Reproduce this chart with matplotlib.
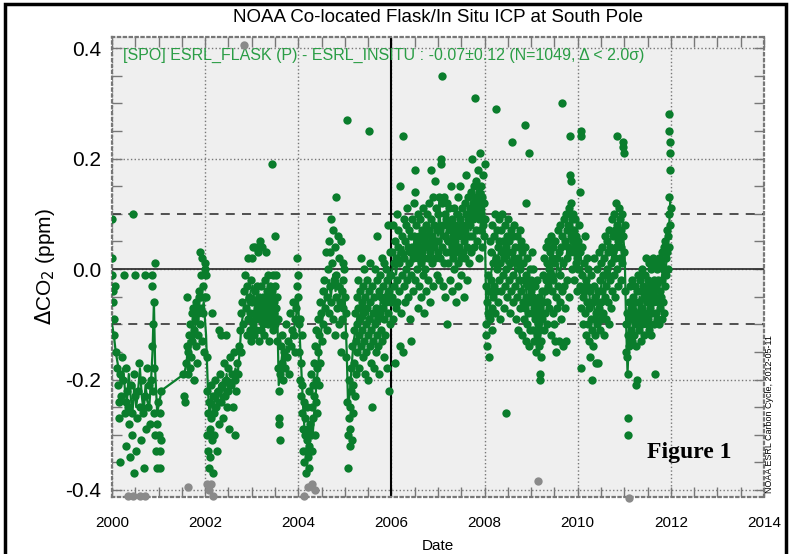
import numpy as np
import matplotlib
matplotlib.use('Agg')
import matplotlib.pyplot as plt

plt.rcParams['font.family'] = ['Liberation Sans', 'DejaVu Sans']

# flask minus in situ differences, (fraction of year, ppm)
pts_2000 = [(0.00, 0.09), (0.00, 0.02), (0.01, -0.01), (0.02, -0.04), (0.03, -0.06), (0.04, -0.09),
            (0.05, -0.12), (0.06, -0.03), (0.08, -0.15), (0.10, -0.18), (0.12, -0.21), (0.14, -0.24),
            (0.15, -0.27), (0.17, -0.35), (0.18, -0.19), (0.20, -0.23), (0.22, -0.16), (0.24, -0.20),
            (0.26, -0.01), (0.27, -0.26), (0.29, -0.24), (0.30, -0.32), (0.31, -0.18), (0.33, -0.22),
            (0.35, -0.25), (0.36, -0.28), (0.38, -0.34), (0.40, -0.21), (0.42, -0.26), (0.44, -0.30),
            (0.45, 0.10), (0.47, -0.37), (0.48, -0.19), (0.50, -0.23), (0.50, -0.01), (0.52, -0.33),
            (0.54, -0.27), (0.56, -0.22), (0.58, -0.17), (0.60, -0.25), (0.62, -0.31), (0.64, -0.20),
            (0.66, -0.26), (0.68, -0.36), (0.70, -0.01), (0.71, -0.23), (0.73, -0.29), (0.75, -0.18),
            (0.77, -0.25), (0.79, -0.21), (0.81, -0.28), (0.83, -0.20), (0.85, -0.01), (0.85, -0.03),
            (0.86, -0.14), (0.88, -0.22), (0.89, -0.10), (0.90, -0.06), (0.90, -0.18), (0.91, -0.26),
            (0.92, 0.01), (0.93, -0.30), (0.94, -0.33), (0.96, -0.28), (0.97, -0.36), (0.98, -0.24)]

pts_2001 = [(0.00, -0.30), (0.02, -0.33), (0.03, -0.26), (0.04, -0.36), (0.05, -0.22), (0.06, -0.31),
            (0.52, -0.19), (0.55, -0.23), (0.57, -0.24), (0.58, -0.17), (0.60, -0.14), (0.62, -0.05),
            (0.63, -0.19), (0.64, -0.15), (0.66, -0.12), (0.67, -0.18), (0.68, -0.10), (0.70, -0.16),
            (0.71, -0.08), (0.72, -0.13), (0.74, -0.07), (0.75, -0.20), (0.76, -0.11), (0.78, -0.09),
            (0.80, -0.14), (0.81, -0.06), (0.82, -0.17), (0.84, -0.08), (0.85, -0.12), (0.86, -0.05),
            (0.87, -0.04), (0.88, -0.10), (0.89, 0.03), (0.90, -0.07), (0.91, -0.01), (0.92, -0.05),
            (0.93, -0.13), (0.94, 0.02), (0.95, -0.08), (0.96, -0.03), (0.97, -0.15), (0.98, -0.05),
            (0.99, 0.00)]

pts_2002 = [(0.00, 0.01), (0.01, -0.01), (0.02, -0.05), (0.03, -0.16), (0.04, -0.22), (0.05, -0.30),
            (0.06, -0.33), (0.07, -0.26), (0.08, -0.36), (0.09, -0.24), (0.10, -0.29), (0.11, -0.34),
            (0.12, -0.21), (0.13, -0.27), (0.14, -0.31), (0.15, -0.08), (0.16, -0.23), (0.17, -0.37),
            (0.18, -0.26), (0.20, -0.30), (0.22, -0.20), (0.24, -0.25), (0.25, -0.33), (0.27, -0.22),
            (0.29, -0.11), (0.30, -0.28), (0.32, -0.19), (0.34, -0.24), (0.35, -0.12), (0.37, -0.21),
            (0.39, -0.27), (0.40, -0.17), (0.42, -0.23), (0.44, -0.20), (0.45, -0.12), (0.47, -0.25),
            (0.49, -0.18), (0.50, -0.22), (0.52, -0.29), (0.54, -0.16), (0.56, -0.21), (0.58, -0.19),
            (0.60, -0.25), (0.62, -0.15), (0.64, -0.20), (0.65, -0.30), (0.67, -0.22), (0.69, -0.17),
            (0.71, -0.19), (0.73, -0.14), (0.75, -0.11), (0.77, -0.08), (0.78, -0.15), (0.80, -0.06),
            (0.82, -0.10), (0.84, -0.04), (0.86, -0.01), (0.88, -0.07), (0.89, -0.12), (0.90, -0.03),
            (0.92, -0.09), (0.93, 0.02), (0.94, -0.05), (0.96, -0.11), (0.97, -0.08), (0.98, -0.02),
            (0.99, -0.13)]

pts_2003 = [(0.00, 0.02), (0.01, -0.06), (0.02, -0.10), (0.03, 0.04), (0.04, -0.08), (0.05, -0.12),
            (0.06, -0.04), (0.07, -0.09), (0.08, 0.04), (0.09, -0.06), (0.10, -0.11), (0.11, -0.07),
            (0.12, -0.03), (0.13, 0.03), (0.14, -0.08), (0.15, -0.13), (0.16, -0.05), (0.17, 0.05),
            (0.18, -0.09), (0.19, -0.06), (0.20, -0.11), (0.21, -0.03), (0.22, -0.07), (0.23, 0.04),
            (0.24, -0.10), (0.25, -0.05), (0.26, -0.08), (0.27, -0.12), (0.28, -0.02), (0.29, -0.06),
            (0.30, -0.09), (0.31, 0.03), (0.32, -0.07), (0.33, -0.04), (0.34, -0.10), (0.35, -0.01),
            (0.36, -0.08), (0.37, -0.05), (0.38, -0.13), (0.39, -0.06), (0.40, -0.03), (0.41, -0.09),
            (0.42, -0.07), (0.43, 0.19), (0.44, -0.04), (0.45, -0.01), (0.46, -0.11), (0.47, -0.06),
            (0.48, -0.08), (0.49, 0.06), (0.50, -0.03), (0.51, -0.10), (0.52, -0.01), (0.53, -0.07),
            (0.54, -0.13), (0.55, -0.05), (0.56, -0.09), (0.57, -0.18), (0.58, -0.27), (0.58, -0.22),
            (0.59, -0.28), (0.60, -0.31), (0.61, -0.19), (0.62, -0.14), (0.64, -0.17), (0.66, -0.12),
            (0.68, -0.20), (0.70, -0.15), (0.72, -0.18), (0.74, -0.10), (0.76, -0.16), (0.78, -0.13),
            (0.80, -0.19), (0.82, -0.08), (0.84, -0.14), (0.86, -0.11), (0.88, -0.06), (0.90, -0.12),
            (0.92, -0.09), (0.94, -0.15), (0.96, -0.07), (0.97, -0.03), (0.98, 0.02), (0.99, -0.01)]

pts_2004 = [(0.00, -0.05), (0.01, -0.10), (0.02, -0.15), (0.03, -0.09), (0.04, -0.20), (0.05, -0.17),
            (0.06, -0.23), (0.07, -0.12), (0.08, -0.26), (0.09, -0.21), (0.10, -0.29), (0.11, -0.33),
            (0.12, -0.24), (0.13, -0.35), (0.14, -0.30), (0.15, -0.27), (0.16, -0.33), (0.17, -0.37),
            (0.18, -0.31), (0.19, -0.25), (0.20, -0.34), (0.21, -0.29), (0.22, -0.32), (0.23, -0.22),
            (0.24, -0.36), (0.25, -0.28), (0.26, -0.33), (0.27, -0.19), (0.28, -0.30), (0.29, -0.25),
            (0.30, -0.33), (0.31, -0.21), (0.32, -0.27), (0.33, -0.17), (0.34, -0.23), (0.35, -0.30),
            (0.36, -0.14), (0.37, -0.20), (0.38, -0.24), (0.39, -0.11), (0.40, -0.18), (0.41, -0.26),
            (0.42, -0.15), (0.43, -0.09), (0.44, -0.21), (0.45, -0.12), (0.46, -0.06), (0.47, -0.17),
            (0.48, -0.08), (0.50, -0.13), (0.52, -0.04), (0.54, -0.10), (0.56, -0.02), (0.58, -0.07),
            (0.60, 0.03), (0.61, -0.11), (0.62, -0.05), (0.64, 0.00), (0.66, -0.08), (0.67, 0.05),
            (0.68, 0.03), (0.69, -0.03), (0.70, 0.09), (0.71, -0.06), (0.72, 0.01), (0.74, -0.09),
            (0.75, 0.07), (0.76, -0.02), (0.78, -0.12), (0.79, 0.04), (0.80, -0.05), (0.82, 0.13),
            (0.82, -0.01), (0.84, -0.07), (0.85, 0.06), (0.86, -0.03), (0.87, -0.10), (0.88, 0.02),
            (0.90, -0.06), (0.91, -0.15), (0.92, 0.05), (0.93, -0.04), (0.94, -0.09), (0.95, -0.02),
            (0.96, 0.01), (0.97, -0.07), (0.98, -0.12), (0.99, 0.00)]

pts_2005 = [(0.00, -0.05), (0.02, -0.08), (0.03, -0.16), (0.04, 0.27), (0.05, -0.24), (0.06, -0.30),
            (0.07, -0.36), (0.08, -0.27), (0.09, -0.20), (0.10, -0.32), (0.11, -0.25), (0.12, -0.29),
            (0.13, -0.22), (0.14, -0.18), (0.15, -0.31), (0.16, -0.14), (0.17, -0.26), (0.18, -0.21),
            (0.19, -0.11), (0.20, -0.17), (0.21, -0.23), (0.22, -0.08), (0.23, -0.13), (0.24, -0.19),
            (0.25, -0.05), (0.26, -0.10), (0.27, -0.15), (0.28, -0.02), (0.29, -0.07), (0.30, -0.12),
            (0.31, -0.18), (0.32, -0.04), (0.33, -0.09), (0.34, -0.14), (0.35, 0.02), (0.36, -0.06),
            (0.37, -0.11), (0.38, -0.16), (0.39, -0.03), (0.40, -0.08), (0.41, -0.13), (0.42, 0.00),
            (0.43, -0.19), (0.44, -0.05), (0.45, -0.10), (0.46, -0.15), (0.47, -0.02), (0.48, -0.07),
            (0.49, -0.12), (0.50, -0.20), (0.51, -0.04), (0.52, 0.25), (0.52, -0.09), (0.53, -0.14),
            (0.54, 0.01), (0.55, -0.06), (0.56, -0.11), (0.57, -0.17), (0.58, -0.25), (0.59, -0.03),
            (0.60, -0.08), (0.61, -0.13), (0.62, -0.18), (0.63, -0.05), (0.64, -0.10), (0.65, 0.00),
            (0.66, -0.15), (0.67, -0.07), (0.68, -0.12), (0.69, -0.02), (0.70, 0.06), (0.71, -0.09),
            (0.72, -0.14), (0.73, -0.04), (0.74, -0.19), (0.75, -0.08), (0.76, -0.01), (0.77, -0.11),
            (0.78, -0.05), (0.79, 0.02), (0.80, -0.13), (0.81, -0.07), (0.82, -0.03), (0.83, -0.16),
            (0.84, 0.01), (0.85, -0.09), (0.86, -0.05), (0.87, -0.12), (0.88, 0.00), (0.89, -0.06),
            (0.90, -0.18), (0.91, -0.02), (0.92, 0.08), (0.93, -0.08), (0.94, -0.04), (0.95, -0.22),
            (0.96, -0.01), (0.97, -0.10), (0.98, 0.03), (0.99, -0.06)]

pts_2006 = [(0.00, -0.01), (0.01, 0.03), (0.02, -0.05), (0.03, 0.08), (0.04, -0.09), (0.05, 0.01),
            (0.06, -0.03), (0.07, -0.17), (0.08, 0.05), (0.09, -0.07), (0.10, 0.02), (0.11, 0.10),
            (0.12, -0.02), (0.13, -0.06), (0.14, 0.04), (0.15, 0.07), (0.16, -0.04), (0.17, 0.01),
            (0.18, 0.15), (0.19, -0.14), (0.20, -0.08), (0.21, 0.03), (0.22, 0.06), (0.23, -0.01),
            (0.24, -0.15), (0.25, 0.24), (0.26, 0.09), (0.27, -0.03), (0.28, 0.02), (0.29, 0.05),
            (0.30, -0.06), (0.31, 0.00), (0.32, 0.08), (0.33, -0.02), (0.34, 0.11), (0.35, 0.04),
            (0.36, -0.05), (0.37, 0.01), (0.38, 0.07), (0.39, -0.09), (0.40, 0.03), (0.41, 0.06),
            (0.42, -0.13), (0.43, -0.01), (0.44, 0.09), (0.45, 0.04), (0.46, -0.04), (0.47, 0.02),
            (0.48, 0.12), (0.49, 0.06), (0.50, 0.18), (0.50, 0.14), (0.51, -0.02), (0.52, 0.03),
            (0.53, 0.08), (0.54, 0.00), (0.55, 0.05), (0.56, -0.07), (0.57, 0.10), (0.58, 0.02),
            (0.59, 0.06), (0.60, -0.03), (0.61, 0.04), (0.62, 0.09), (0.63, 0.01), (0.64, -0.05),
            (0.65, 0.07), (0.66, 0.03), (0.67, -0.01), (0.68, 0.11), (0.69, 0.05), (0.70, -0.08),
            (0.71, 0.02), (0.72, 0.06), (0.73, 0.00), (0.74, 0.08), (0.75, -0.04), (0.76, 0.04),
            (0.77, 0.10), (0.78, 0.02), (0.79, -0.02), (0.80, 0.07), (0.81, 0.12), (0.82, 0.03),
            (0.83, -0.06), (0.84, 0.05), (0.85, 0.09), (0.86, 0.18), (0.87, 0.01), (0.88, 0.06),
            (0.89, 0.13), (0.90, -0.03), (0.91, 0.04), (0.92, 0.08), (0.93, 0.16), (0.94, 0.02),
            (0.95, 0.11), (0.96, 0.05), (0.97, -0.01), (0.98, 0.07), (0.99, 0.03)]

pts_2007 = [(0.00, 0.05), (0.01, 0.10), (0.02, -0.02), (0.03, 0.13), (0.04, 0.07), (0.05, 0.02),
            (0.06, 0.19), (0.07, 0.20), (0.08, 0.35), (0.08, 0.12), (0.09, 0.04), (0.10, -0.03),
            (0.11, 0.08), (0.12, 0.13), (0.13, 0.01), (0.14, 0.06), (0.15, 0.10), (0.16, -0.05),
            (0.17, 0.03), (0.18, 0.09), (0.19, 0.12), (0.20, -0.10), (0.21, 0.05), (0.22, 0.01),
            (0.23, 0.08), (0.24, 0.11), (0.25, 0.03), (0.26, -0.02), (0.27, 0.07), (0.28, 0.15),
            (0.29, 0.04), (0.30, 0.09), (0.31, -0.04), (0.32, 0.02), (0.33, 0.06), (0.34, 0.11),
            (0.35, 0.00), (0.36, 0.05), (0.37, 0.08), (0.38, -0.06), (0.39, 0.03), (0.40, 0.10),
            (0.41, 0.06), (0.42, 0.01), (0.43, 0.13), (0.44, -0.03), (0.45, 0.07), (0.46, 0.04),
            (0.47, 0.15), (0.48, 0.09), (0.49, 0.02), (0.50, -0.01), (0.51, 0.06), (0.52, 0.11),
            (0.53, 0.03), (0.54, 0.08), (0.55, -0.05), (0.56, 0.05), (0.57, 0.12), (0.58, 0.02),
            (0.59, 0.07), (0.60, 0.17), (0.61, 0.10), (0.62, 0.04), (0.63, -0.02), (0.64, 0.09),
            (0.65, 0.13), (0.66, 0.06), (0.67, 0.01), (0.68, 0.11), (0.69, 0.08), (0.70, 0.14),
            (0.71, 0.03), (0.72, 0.10), (0.73, 0.06), (0.74, 0.20), (0.75, 0.12), (0.76, 0.09),
            (0.77, 0.15), (0.78, 0.04), (0.79, 0.31), (0.79, 0.11), (0.80, 0.13), (0.81, 0.07),
            (0.82, 0.16), (0.83, 0.10), (0.84, 0.05), (0.85, 0.12), (0.86, 0.18), (0.87, 0.09),
            (0.88, 0.14), (0.89, 0.02), (0.90, 0.21), (0.90, 0.11), (0.91, 0.07), (0.92, 0.15),
            (0.93, 0.10), (0.94, 0.04), (0.95, 0.13), (0.96, 0.08), (0.97, 0.17), (0.98, 0.12),
            (0.99, 0.06)]

pts_2008 = [(0.00, 0.19), (0.01, 0.09), (0.02, -0.03), (0.03, -0.10), (0.04, -0.12), (0.05, -0.06),
            (0.06, -0.14), (0.07, -0.01), (0.08, -0.08), (0.09, -0.16), (0.10, -0.04), (0.11, 0.05),
            (0.12, -0.09), (0.13, -0.02), (0.14, 0.03), (0.15, -0.07), (0.16, 0.08), (0.17, -0.11),
            (0.18, 0.01), (0.19, -0.05), (0.20, 0.06), (0.21, -0.03), (0.22, 0.10), (0.23, -0.08),
            (0.24, 0.02), (0.25, 0.29), (0.25, -0.04), (0.26, 0.07), (0.27, 0.00), (0.28, -0.06),
            (0.29, 0.04), (0.30, 0.09), (0.31, -0.02), (0.32, 0.05), (0.33, -0.09), (0.34, 0.01),
            (0.35, 0.07), (0.36, -0.04), (0.37, 0.03), (0.38, 0.10), (0.39, -0.01), (0.40, 0.05),
            (0.41, -0.07), (0.42, 0.02), (0.43, 0.08), (0.44, -0.03), (0.45, 0.04), (0.46, 0.00),
            (0.47, -0.26), (0.48, 0.06), (0.49, -0.05), (0.50, 0.03), (0.51, 0.09), (0.52, -0.02),
            (0.53, 0.05), (0.54, -0.08), (0.55, 0.01), (0.56, 0.07), (0.57, -0.04), (0.58, 0.03),
            (0.59, 0.23), (0.60, -0.01), (0.61, 0.06), (0.62, -0.06), (0.63, 0.02), (0.64, 0.08),
            (0.65, -0.03), (0.66, 0.04), (0.67, -0.09), (0.68, 0.01), (0.69, 0.06), (0.70, -0.05),
            (0.71, 0.02), (0.72, -0.11), (0.73, 0.04), (0.74, -0.02), (0.75, 0.07), (0.76, -0.07),
            (0.77, 0.00), (0.78, 0.05), (0.79, -0.04), (0.80, -0.12), (0.81, 0.03), (0.82, -0.06),
            (0.83, 0.01), (0.84, -0.09), (0.85, -0.02), (0.86, 0.26), (0.86, 0.04), (0.87, -0.07),
            (0.88, -0.13), (0.89, -0.01), (0.90, 0.12), (0.90, -0.05), (0.91, -0.10), (0.92, 0.02),
            (0.93, -0.08), (0.94, -0.03), (0.95, 0.21), (0.95, -0.14), (0.96, -0.06), (0.97, 0.00),
            (0.98, -0.11), (0.99, -0.04)]

pts_2009 = [(0.00, -0.02), (0.01, -0.08), (0.02, 0.03), (0.03, -0.05), (0.04, -0.11), (0.05, 0.00),
            (0.06, -0.07), (0.07, -0.13), (0.08, -0.03), (0.09, -0.09), (0.10, -0.15), (0.11, -0.06),
            (0.12, -0.12), (0.13, -0.02), (0.14, -0.10), (0.15, -0.08), (0.16, -0.14), (0.17, -0.05),
            (0.18, -0.19), (0.18, -0.11), (0.19, -0.20), (0.20, -0.07), (0.21, -0.13), (0.22, -0.16),
            (0.23, -0.04), (0.24, -0.09), (0.25, -0.01), (0.26, -0.06), (0.27, -0.11), (0.28, 0.02),
            (0.29, -0.04), (0.30, -0.08), (0.31, 0.04), (0.32, -0.02), (0.33, -0.06), (0.34, 0.01),
            (0.35, -0.10), (0.36, 0.05), (0.37, -0.03), (0.38, 0.00), (0.39, -0.07), (0.40, 0.03),
            (0.41, -0.01), (0.42, -0.12), (0.43, 0.06), (0.44, -0.04), (0.45, 0.02), (0.46, -0.08),
            (0.47, 0.04), (0.48, -0.02), (0.49, -0.10), (0.50, 0.01), (0.51, -0.13), (0.52, 0.05),
            (0.53, -0.05), (0.54, -0.15), (0.55, 0.02), (0.56, -0.07), (0.57, 0.07), (0.58, -0.03),
            (0.59, -0.13), (0.60, 0.03), (0.61, -0.06), (0.62, 0.08), (0.63, -0.01), (0.64, -0.09),
            (0.65, 0.04), (0.66, 0.30), (0.66, -0.04), (0.67, 0.06), (0.68, -0.14), (0.69, 0.01),
            (0.70, 0.09), (0.71, -0.03), (0.72, 0.05), (0.73, -0.07), (0.74, 0.10), (0.75, -0.13),
            (0.76, 0.02), (0.77, 0.07), (0.78, -0.02), (0.79, 0.04), (0.80, 0.08), (0.81, -0.05),
            (0.82, 0.11), (0.83, 0.24), (0.83, 0.03), (0.84, 0.17), (0.85, 0.16), (0.85, 0.06),
            (0.86, 0.12), (0.87, 0.00), (0.88, 0.09), (0.89, 0.05), (0.90, 0.10), (0.91, 0.03),
            (0.92, 0.07), (0.93, -0.02), (0.94, 0.04), (0.95, 0.09), (0.96, 0.01), (0.97, 0.06),
            (0.98, -0.04), (0.99, 0.02)]

pts_2010 = [(0.00, 0.05), (0.01, 0.00), (0.02, 0.08), (0.04, 0.14), (0.04, -0.03), (0.05, 0.03),
            (0.06, -0.07), (0.07, 0.25), (0.08, 0.24), (0.08, -0.18), (0.09, -0.01), (0.10, 0.04),
            (0.11, -0.05), (0.12, -0.10), (0.13, 0.01), (0.14, -0.04), (0.15, 0.06), (0.16, -0.08),
            (0.17, -0.02), (0.18, -0.12), (0.19, 0.02), (0.20, -0.06), (0.21, -0.03), (0.22, -0.10),
            (0.23, 0.00), (0.24, -0.07), (0.25, -0.13), (0.26, -0.04), (0.27, -0.16), (0.28, -0.09),
            (0.29, -0.01), (0.30, -0.11), (0.31, -0.20), (0.32, -0.06), (0.33, -0.14), (0.34, -0.03),
            (0.35, -0.09), (0.36, 0.02), (0.37, -0.12), (0.38, -0.05), (0.39, -0.17), (0.40, -0.08),
            (0.41, 0.00), (0.42, -0.10), (0.43, -0.17), (0.44, -0.04), (0.45, -0.07), (0.46, 0.03),
            (0.47, -0.11), (0.48, -0.02), (0.49, -0.06), (0.50, 0.01), (0.51, -0.09), (0.52, -0.04),
            (0.53, 0.04), (0.54, -0.08), (0.55, -0.01), (0.56, -0.12), (0.57, 0.02), (0.58, -0.05),
            (0.59, 0.06), (0.60, -0.03), (0.61, -0.09), (0.62, 0.00), (0.63, 0.05), (0.64, -0.06),
            (0.65, -0.01), (0.66, 0.03), (0.67, -0.10), (0.68, 0.07), (0.69, -0.02), (0.70, 0.04),
            (0.71, -0.07), (0.72, 0.01), (0.73, 0.09), (0.74, -0.04), (0.75, 0.03), (0.76, 0.06),
            (0.77, -0.01), (0.78, 0.10), (0.79, 0.02), (0.80, -0.05), (0.81, 0.07), (0.82, 0.04),
            (0.83, 0.12), (0.84, 0.24), (0.84, 0.00), (0.85, 0.08), (0.86, 0.05), (0.87, -0.03),
            (0.88, 0.11), (0.89, 0.06), (0.90, 0.02), (0.91, 0.09), (0.92, -0.02), (0.93, 0.07),
            (0.94, 0.04), (0.95, 0.10), (0.96, 0.01), (0.97, 0.23), (0.98, 0.22), (0.98, 0.06),
            (0.99, 0.03)]

pts_2011 = [(0.00, 0.21), (0.01, 0.08), (0.02, -0.04), (0.03, -0.10), (0.04, -0.15), (0.05, -0.08),
            (0.06, -0.16), (0.07, -0.19), (0.08, -0.27), (0.08, -0.30), (0.09, -0.12), (0.10, -0.06),
            (0.11, -0.14), (0.12, -0.09), (0.13, -0.03), (0.14, -0.11), (0.15, -0.07), (0.16, -0.13),
            (0.17, -0.02), (0.18, -0.09), (0.19, -0.05), (0.20, -0.12), (0.21, -0.08), (0.22, -0.03),
            (0.23, -0.10), (0.24, -0.06), (0.25, -0.14), (0.26, -0.21), (0.27, -0.20), (0.28, -0.04),
            (0.29, -0.09), (0.30, -0.01), (0.31, -0.11), (0.32, -0.06), (0.33, -0.02), (0.34, -0.08),
            (0.35, -0.13), (0.36, -0.04), (0.37, -0.10), (0.38, 0.00), (0.39, -0.07), (0.40, -0.03),
            (0.41, -0.09), (0.42, -0.05), (0.43, -0.12), (0.44, -0.01), (0.45, -0.08), (0.46, -0.04),
            (0.47, 0.02), (0.48, -0.10), (0.49, -0.06), (0.50, -0.02), (0.51, -0.09), (0.52, 0.01),
            (0.53, -0.05), (0.54, -0.11), (0.55, -0.03), (0.56, -0.07), (0.57, 0.00), (0.58, -0.12),
            (0.59, -0.04), (0.60, -0.08), (0.61, 0.02), (0.62, -0.06), (0.63, -0.10), (0.64, -0.02),
            (0.65, -0.19), (0.66, -0.05), (0.67, 0.01), (0.68, -0.08), (0.69, -0.03), (0.70, -0.09),
            (0.71, 0.00), (0.72, -0.06), (0.73, -0.02), (0.74, -0.10), (0.75, 0.02), (0.76, -0.04),
            (0.77, -0.07), (0.78, 0.01), (0.79, -0.05), (0.80, -0.09), (0.81, 0.03), (0.82, -0.02),
            (0.83, -0.06), (0.84, 0.00), (0.85, -0.08), (0.86, 0.04), (0.87, -0.03), (0.88, 0.05),
            (0.89, -0.01), (0.90, 0.02), (0.91, 0.07), (0.92, 0.03), (0.93, 0.00), (0.94, 0.06),
            (0.95, 0.10), (0.96, 0.04), (0.96, 0.28), (0.97, 0.13), (0.97, 0.25), (0.98, 0.08),
            (0.98, 0.23), (0.99, 0.21), (0.99, 0.18), (1.00, 0.11)]

# rejected points (outside 2 sigma), drawn in gray
gray_dates = [2000.35, 2000.45, 2000.60, 2000.70, 2001.63, 2002.05, 2002.08, 2002.12, 2002.17,
              2002.83, 2004.12, 2004.20, 2004.30, 2004.35, 2009.15, 2011.10]
gray_vals = [-0.41, -0.41, -0.41, -0.41, -0.395, -0.39, -0.40, -0.39, -0.41,
             0.405, -0.41, -0.395, -0.39, -0.40, -0.384, -0.414]

# running curve through the differences
curve_dates = [2000.00, 2000.04, 2000.08, 2000.12, 2000.16, 2000.20, 2000.24, 2000.28, 2000.32, 2000.36,
               2000.40, 2000.44, 2000.48, 2000.52, 2000.56, 2000.60, 2000.64, 2000.68, 2000.72, 2000.76,
               2000.80, 2000.84, 2000.87, 2000.90, 2000.93, 2000.97, 2001.02, 2001.06, 2001.55, 2001.60,
               2001.64, 2001.68, 2001.72, 2001.76, 2001.80, 2001.84, 2001.88, 2001.92, 2001.97, 2002.02,
               2002.06, 2002.10, 2002.14, 2002.18, 2002.22, 2002.26, 2002.30, 2002.34, 2002.38, 2002.42,
               2002.46, 2002.50, 2002.55, 2002.60, 2002.65, 2002.70, 2002.74, 2002.78, 2002.82, 2002.86,
               2002.90, 2002.94, 2002.98, 2003.02, 2003.06, 2003.10, 2003.15, 2003.20, 2003.25, 2003.30,
               2003.35, 2003.40, 2003.45, 2003.50, 2003.55, 2003.58, 2003.62, 2003.66, 2003.70, 2003.75,
               2003.80, 2003.85, 2003.90, 2003.95, 2003.99, 2004.03, 2004.07, 2004.11, 2004.15, 2004.19,
               2004.23, 2004.27, 2004.31, 2004.35, 2004.39, 2004.43, 2004.47, 2004.52, 2004.57, 2004.62,
               2004.66, 2004.70, 2004.75, 2004.80, 2004.85, 2004.90, 2004.95, 2005.00, 2005.04, 2005.07,
               2005.11, 2005.15, 2005.19, 2005.23, 2005.28, 2005.33, 2005.38, 2005.43, 2005.48, 2005.53,
               2005.58, 2005.63, 2005.68, 2005.73, 2005.78, 2005.83, 2005.88, 2005.93, 2005.97, 2006.02,
               2006.06, 2006.10, 2006.15, 2006.20, 2006.25, 2006.30, 2006.35, 2006.40, 2006.45, 2006.50,
               2006.55, 2006.60, 2006.65, 2006.70, 2006.75, 2006.80, 2006.85, 2006.90, 2006.95, 2007.00,
               2007.03, 2007.06, 2007.10, 2007.15, 2007.20, 2007.25, 2007.30, 2007.35, 2007.40, 2007.45,
               2007.50, 2007.55, 2007.60, 2007.65, 2007.70, 2007.75, 2007.80, 2007.85, 2007.90, 2007.94,
               2007.98, 2008.01, 2008.04, 2008.08, 2008.12, 2008.17, 2008.22, 2008.27, 2008.32, 2008.37,
               2008.42, 2008.47, 2008.52, 2008.57, 2008.62, 2008.67, 2008.72, 2008.77, 2008.82, 2008.87,
               2008.92, 2008.97, 2009.02, 2009.07, 2009.12, 2009.17, 2009.22, 2009.27, 2009.32, 2009.37,
               2009.42, 2009.47, 2009.52, 2009.57, 2009.62, 2009.67, 2009.72, 2009.77, 2009.82, 2009.86,
               2009.90, 2009.94, 2009.98, 2010.03, 2010.08, 2010.13, 2010.18, 2010.23, 2010.28, 2010.33,
               2010.38, 2010.43, 2010.48, 2010.53, 2010.58, 2010.63, 2010.68, 2010.73, 2010.78, 2010.83,
               2010.88, 2010.93, 2010.97, 2011.01, 2011.04, 2011.07, 2011.10, 2011.14, 2011.18, 2011.23,
               2011.28, 2011.33, 2011.38, 2011.43, 2011.48, 2011.53, 2011.58, 2011.63, 2011.68, 2011.73,
               2011.78, 2011.83, 2011.88, 2011.92, 2011.96, 2011.99]
curve_vals = [-0.10, -0.12, -0.15, -0.17, -0.19, -0.21, -0.18, -0.22, -0.24, -0.19,
              -0.23, -0.26, -0.21, -0.25, -0.22, -0.18, -0.23, -0.26, -0.21, -0.24,
              -0.25, -0.20, -0.15, -0.06, -0.19, -0.26, -0.24, -0.22, -0.19, -0.17,
              -0.13, -0.15, -0.11, -0.13, -0.09, -0.10, -0.07, -0.08, -0.06, -0.12,
              -0.22, -0.27, -0.23, -0.26, -0.22, -0.25, -0.21, -0.24, -0.20, -0.23,
              -0.19, -0.22, -0.20, -0.21, -0.18, -0.19, -0.15, -0.10, -0.08, -0.06,
              -0.05, -0.07, -0.04, -0.03, -0.06, -0.05, -0.08, -0.06, -0.08, -0.05,
              -0.07, -0.06, -0.04, -0.07, -0.08, -0.21, -0.18, -0.15, -0.17, -0.14,
              -0.15, -0.12, -0.11, -0.09, -0.05, -0.12, -0.19, -0.26, -0.31, -0.29,
              -0.33, -0.28, -0.30, -0.25, -0.21, -0.17, -0.13, -0.09, -0.06, -0.04,
              -0.02, -0.05, -0.01, -0.04, -0.02, -0.05, -0.03, -0.06, -0.15, -0.25,
              -0.22, -0.17, -0.13, -0.11, -0.08, -0.09, -0.06, -0.09, -0.07, -0.10,
              -0.08, -0.11, -0.07, -0.09, -0.05, -0.07, -0.04, -0.06, -0.02, 0.00,
              0.02, -0.01, 0.03, 0.01, 0.04, 0.02, 0.05, 0.03, 0.01, 0.06,
              0.03, 0.05, 0.02, 0.04, 0.06, 0.03, 0.07, 0.05, 0.08, 0.06,
              0.13, 0.04, 0.07, 0.05, 0.08, 0.04, 0.06, 0.09, 0.05, 0.07,
              0.10, 0.06, 0.08, 0.11, 0.07, 0.10, 0.13, 0.09, 0.15, 0.11,
              0.14, 0.05, -0.09, -0.05, -0.02, 0.01, 0.03, 0.01, 0.04, 0.02,
              0.05, 0.01, 0.03, 0.00, 0.02, -0.01, 0.01, -0.02, -0.04, -0.02,
              -0.06, -0.04, -0.06, -0.08, -0.07, -0.10, -0.11, -0.06, -0.03, -0.01,
              -0.03, 0.00, -0.02, 0.01, -0.01, 0.02, 0.00, 0.03, 0.06, 0.10,
              0.07, 0.05, 0.03, 0.06, 0.01, -0.02, -0.05, -0.03, -0.07, -0.05,
              -0.09, -0.06, -0.04, -0.02, -0.03, 0.00, -0.01, 0.02, 0.04, 0.03,
              0.06, 0.04, 0.07, 0.02, -0.10, -0.19, -0.12, -0.08, -0.10, -0.06,
              -0.09, -0.05, -0.07, -0.04, -0.06, -0.03, -0.05, -0.03, -0.05, -0.02,
              -0.03, 0.00, -0.01, 0.03, 0.07, 0.13]

years = [2000, 2001, 2002, 2003, 2004, 2005, 2006, 2007, 2008, 2009, 2010, 2011]
all_pts = [pts_2000, pts_2001, pts_2002, pts_2003, pts_2004, pts_2005,
           pts_2006, pts_2007, pts_2008, pts_2009, pts_2010, pts_2011]

dates = []
vals = []
for yr, pts in zip(years, all_pts):
    for f, v in pts:
        dates.append(yr + f)
        vals.append(v)

green = '#0a7d2c'

fig = plt.figure(figsize=(7.9, 5.54), dpi=100)
ax = fig.add_axes([112/790, 1 - 497/554, (764 - 112)/790, (497 - 37)/554])
ax.set_facecolor('#efefef')

ax.set_xlim(2000, 2014)
ax.set_ylim(-0.4127, 0.42)

# reference lines
ax.axhline(0.0, color='#333333', lw=1.3, zorder=2)
ax.axhline(0.1, color='#444444', lw=1.3, ls=(0, (5, 4)), zorder=2)
ax.axhline(-0.1, color='#444444', lw=1.3, ls=(0, (5, 4)), zorder=2)
ax.axvline(2006, color='black', lw=1.5, zorder=2)

ax.plot(curve_dates, curve_vals, color=green, lw=1.6, zorder=3)
ax.plot(dates, vals, 'o', color=green, ms=6, mew=0, zorder=4)
ax.plot(gray_dates, gray_vals, 'o', color='#8a8a8a', ms=6, mew=0, zorder=4, clip_on=False)

ax.set_xticks(np.arange(2000, 2015, 2))
ax.set_xticks(np.arange(2000, 2014.01, 0.5), minor=True)
ax.set_yticks([-0.4, -0.2, 0.0, 0.2, 0.4])
ax.set_yticks(np.arange(-0.4, 0.41, 0.05), minor=True)
ax.set_yticklabels(['-0.4', '-0.2', '0.0', '0.2', '0.4'], fontsize=15)
ax.tick_params(axis='x', labelsize=11, pad=14)
ax.tick_params(which='both', direction='in', top=True, right=True, length=7, width=1, color='#777777')
ax.tick_params(axis='y', pad=8)
ax.grid(True, which='major', ls=':', color='#777777', lw=1)
for s in ax.spines.values():
    s.set_linestyle(':')
    s.set_color('#777777')
    s.set_linewidth(1.6)

ax.set_xlabel('Date', fontsize=11, labelpad=6)
ax.set_ylabel(r'$\Delta$CO$_2$ (ppm)', fontsize=15, labelpad=6)

fig.text(438/790, 1 - 17/554, 'NOAA Co-located Flask/In Situ ICP at South Pole',
         ha='center', va='center', fontsize=13.5)
ax.text(0.017, 0.977, '[SPO] ESRL_FLASK (P) - ESRL_INSITU : -0.07\u00b10.12 (N=1049, \u0394 < 2.0\u03c3)',
        transform=ax.transAxes, ha='left', va='top', fontsize=11.5, color='#2a9d45')
ax.text(0.82, 0.085, 'Figure 1', transform=ax.transAxes, ha='left', va='baseline',
        fontsize=17, fontweight='bold', family=['Liberation Serif', 'DejaVu Serif'])
fig.text(769/790, 1 - 493/554, 'NOAA ESRL Carbon Cycle, 2012-05-11', rotation=90,
         ha='center', va='bottom', fontsize=6.5)

# black frame around the picture
fig.patches.append(plt.Rectangle((5/790, -0.01), 1 - 9/790, 1 - 4/554 + 0.01, transform=fig.transFigure,
                                 fill=False, edgecolor='black', lw=2.5))

fig.savefig('out.png', dpi=100)
